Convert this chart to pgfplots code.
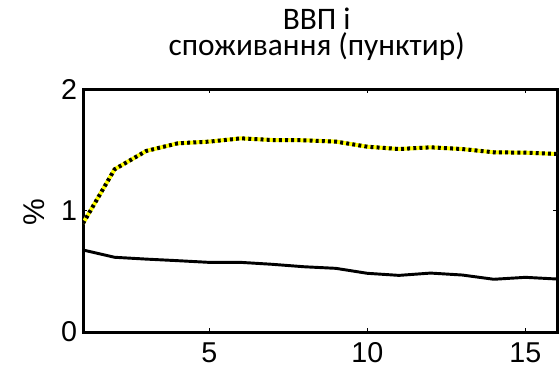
\documentclass[border=0pt]{standalone}
\usepackage{fontspec}
\setmainfont{Liberation Sans}
\newfontfamily\titlefont{Carlito}
\usepackage{pgfplots}
\pgfplotsset{compat=1.18}
\definecolor{dotyellow}{RGB}{255,255,0}
\begin{document}
\begin{tikzpicture}
\useasboundingbox (0,0) rectangle (419.25pt,276pt);
\begin{axis}[
  at={(62.25pt,27pt)}, anchor=south west,
  width=355.5pt, height=182.25pt, scale only axis,
  xmin=1, xmax=16, ymin=0, ymax=2,
  xtick={5,10,15}, ytick={0,1,2},
  tick align=inside, major tick length=3pt,
  axis line style={line width=2.25pt},
  every tick/.style={black, line width=0.8pt},
  tick label style={font=\fontsize{21.5}{21.5}\selectfont},
  xticklabel style={anchor=base, inner sep=0pt, yshift=-23pt},
  yticklabel style={xshift=-1pt},
  /pgf/number format/assume math mode=true,
  clip=true,
]
\addplot[black, line width=2.2pt] coordinates {
 (1,0.675) (2,0.615) (3,0.600) (4,0.587) (5,0.573) (6,0.573) (7,0.557) (8,0.537)
 (9,0.524) (10,0.483) (11,0.466) (12,0.485) (13,0.469) (14,0.434) (15,0.450) (16,0.436)};
\addplot[dotyellow, line width=3pt] coordinates {
 (1,0.894) (2,1.339) (3,1.490) (4,1.553) (5,1.567) (6,1.594) (7,1.580) (8,1.578)
 (9,1.567) (10,1.525) (11,1.506) (12,1.520) (13,1.506) (14,1.479) (15,1.476) (16,1.465)};
\addplot[black, line width=3pt, dash pattern=on 2.2pt off 2.4pt] coordinates {
 (1,0.894) (2,1.339) (3,1.490) (4,1.553) (5,1.567) (6,1.594) (7,1.580) (8,1.578)
 (9,1.567) (10,1.525) (11,1.506) (12,1.520) (13,1.506) (14,1.479) (15,1.476) (16,1.465)};
\end{axis}
\node[anchor=base, inner sep=0pt, font=\titlefont\fontsize{23.5}{23.5}\selectfont] at (237.5pt,254pt) {ВВП і};
\node[anchor=base, inner sep=0pt, font=\titlefont\fontsize{23.5}{23.5}\selectfont] at (237.5pt,234pt) {споживання (пунктир)};
\node[rotate=90, font=\fontsize{22.5}{22.5}\selectfont] at (25.5pt,117pt) {\%};
\end{tikzpicture}
\end{document}
